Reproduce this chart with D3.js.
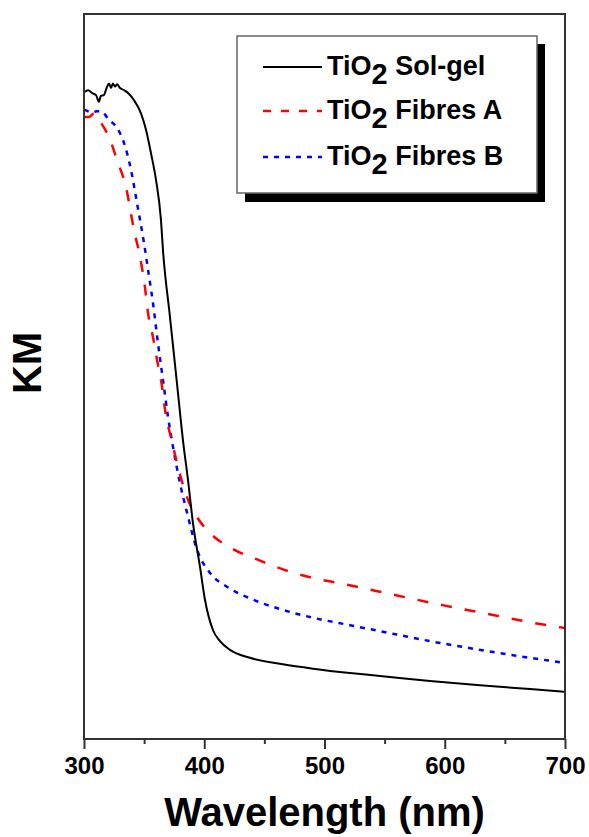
<!DOCTYPE html>
<html>
<head>
<meta charset="utf-8">
<script src="https://cdn.jsdelivr.net/npm/d3@7"></script>
<style>
  body { margin: 0; background: #fff; }
  text { font-family: "Liberation Sans", Arial, sans-serif; font-weight: bold; }
</style>
</head>
<body>
<div class="canvas"></div>
<script>
// values (nm, KM in arbitrary units)
var solGelNm = [300, 303.5, 306.7, 310, 312.5, 314, 316.5, 319, 320.8, 322.5, 324, 325.8, 327.4, 329.9, 333.3, 336.6, 341.6, 347.4, 351.6, 355.7, 359.9, 364, 365.7, 371.5, 377.3, 382.3, 386.5, 390.6, 396.5, 400.6, 407.3, 413.1, 421.4, 438, 465.5, 490.4, 521.2, 546.2, 587.7, 629.3, 670.9, 700];
var solGelKm = [0.892, 0.895, 0.891, 0.888, 0.879, 0.887, 0.888, 0.899, 0.904, 0.898, 0.904, 0.900, 0.903, 0.898, 0.895, 0.891, 0.881, 0.863, 0.840, 0.808, 0.771, 0.716, 0.674, 0.582, 0.491, 0.412, 0.357, 0.298, 0.237, 0.192, 0.150, 0.135, 0.123, 0.112, 0.103, 0.097, 0.091, 0.087, 0.080, 0.074, 0.069, 0.065];

var fibresANm = [300, 304.2, 308.3, 314.1, 320.8, 327.4, 334.9, 341.6, 346.6, 350.7, 353.2, 357.4, 360.7, 364.9, 367.4, 373.2, 378.2, 386.5, 394, 404.8, 423.9, 446.4, 465.5, 487.9, 515.4, 560.3, 600, 643.4, 670.9, 700];
var fibresAKm = [0.858, 0.858, 0.863, 0.850, 0.830, 0.799, 0.761, 0.702, 0.665, 0.623, 0.588, 0.554, 0.523, 0.486, 0.454, 0.410, 0.375, 0.330, 0.306, 0.284, 0.262, 0.246, 0.234, 0.223, 0.214, 0.198, 0.184, 0.170, 0.161, 0.153];

var fibresBNm = [300, 303, 306.7, 310.8, 314.1, 320.8, 327.4, 333.3, 339.1, 344.1, 349.9, 354.9, 357.4, 361.5, 365.7, 369.9, 374, 379.8, 385.7, 394, 404.8, 418.9, 438, 465.5, 493.8, 521.2, 560.3, 587.7, 615.2, 643.4, 670.9, 700];
var fibresBKm = [0.868, 0.866, 0.864, 0.866, 0.866, 0.854, 0.843, 0.822, 0.785, 0.739, 0.684, 0.629, 0.601, 0.546, 0.495, 0.444, 0.403, 0.353, 0.312, 0.261, 0.229, 0.210, 0.194, 0.178, 0.166, 0.157, 0.144, 0.135, 0.127, 0.119, 0.112, 0.105];

var seriesNames = ["Sol-gel", "Fibres A", "Fibres B"];
var seriesColors = ["#000000", "#ff0000", "#0000ff"];
var seriesDash = [null, "11,13", "5,6"];
var legendDash = [null, "8,10", "5,6"];
var seriesWidth = [2, 2.5, 2.5];

var xTicks = [300, 400, 500, 600, 700];
var xMinorTicks = [350, 450, 550, 650];

var width = 589,
    height = 837;
var plotLeft = 84, plotRight = 565, plotTop = 14, plotBottom = 739;

var svg = d3.select(".canvas").append("svg")
          .attr("width", width)
          .attr("height", height);

var x = d3.scaleLinear().domain([300, 700]).range([plotLeft, plotRight]);
var y = d3.scaleLinear().domain([0, 1]).range([plotBottom, plotTop]);

var series = [
  d3.zip(solGelNm, solGelKm),
  d3.zip(fibresANm, fibresAKm),
  d3.zip(fibresBNm, fibresBKm)
];

var line = d3.line()
  .x(d => x(d[0]))
  .y(d => y(d[1]))
  .curve(d3.curveMonotoneX);

// curves, drawn back to front
[2, 1, 0].forEach(i => {
  svg.append("path")
    .datum(series[i])
    .attr("d", line)
    .attr("fill", "none")
    .attr("stroke", seriesColors[i])
    .attr("stroke-width", seriesWidth[i])
    .attr("stroke-dasharray", seriesDash[i]);
});

// frame
svg.append("rect")
  .attr("x", plotLeft).attr("y", plotTop)
  .attr("width", plotRight - plotLeft).attr("height", plotBottom - plotTop)
  .attr("fill", "none")
  .attr("stroke", "#333")
  .attr("stroke-width", 2);

var xAxis = svg.append("g")
  .attr("transform", "translate(0," + plotBottom + ")")
  .call(d3.axisBottom(x).tickValues(xTicks).tickSize(10).tickPadding(8));
xAxis.select(".domain").remove();
xAxis.selectAll("line").attr("stroke", "#333").attr("stroke-width", 2);
xAxis.selectAll("text")
  .attr("font-size", 24)
  .attr("fill", "#000")
  .style("font-family", "'Liberation Sans', Arial, sans-serif")
  .style("font-weight", "bold");

var xMinor = svg.append("g")
  .attr("transform", "translate(0," + plotBottom + ")")
  .call(d3.axisBottom(x).tickValues(xMinorTicks).tickSize(5).tickFormat(""));
xMinor.select(".domain").remove();
xMinor.selectAll("line").attr("stroke", "#333").attr("stroke-width", 2);

// axis titles
svg.append("text")
  .attr("x", (plotLeft + plotRight) / 2)
  .attr("y", 826)
  .attr("text-anchor", "middle")
  .attr("font-size", 40)
  .text("Wavelength (nm)");

svg.append("text")
  .attr("transform", "translate(41,363) rotate(-90)")
  .attr("text-anchor", "middle")
  .attr("font-size", 40)
  .text("KM");

// legend with drop shadow
var legend = svg.append("g");
legend.append("rect")
  .attr("x", 245).attr("y", 44)
  .attr("width", 300).attr("height", 158)
  .attr("fill", "#000");
legend.append("rect")
  .attr("x", 237).attr("y", 36)
  .attr("width", 300).attr("height", 157)
  .attr("fill", "#fff")
  .attr("stroke", "#666")
  .attr("stroke-width", 1.5);

var rowY = [67, 111, 157];
seriesNames.forEach((name, i) => {
  legend.append("line")
    .attr("x1", 263).attr("x2", 322)
    .attr("y1", rowY[i]).attr("y2", rowY[i])
    .attr("stroke", seriesColors[i])
    .attr("stroke-width", seriesWidth[i])
    .attr("stroke-dasharray", legendDash[i]);
  var t = legend.append("text")
    .attr("x", 327)
    .attr("y", rowY[i] + 8)
    .attr("font-size", 27);
  t.append("tspan").text("TiO");
  t.append("tspan").attr("dy", 9).attr("font-size", 29).text("2");
  t.append("tspan").attr("dy", -9).text(" " + name);
});
</script>
</body>
</html>
